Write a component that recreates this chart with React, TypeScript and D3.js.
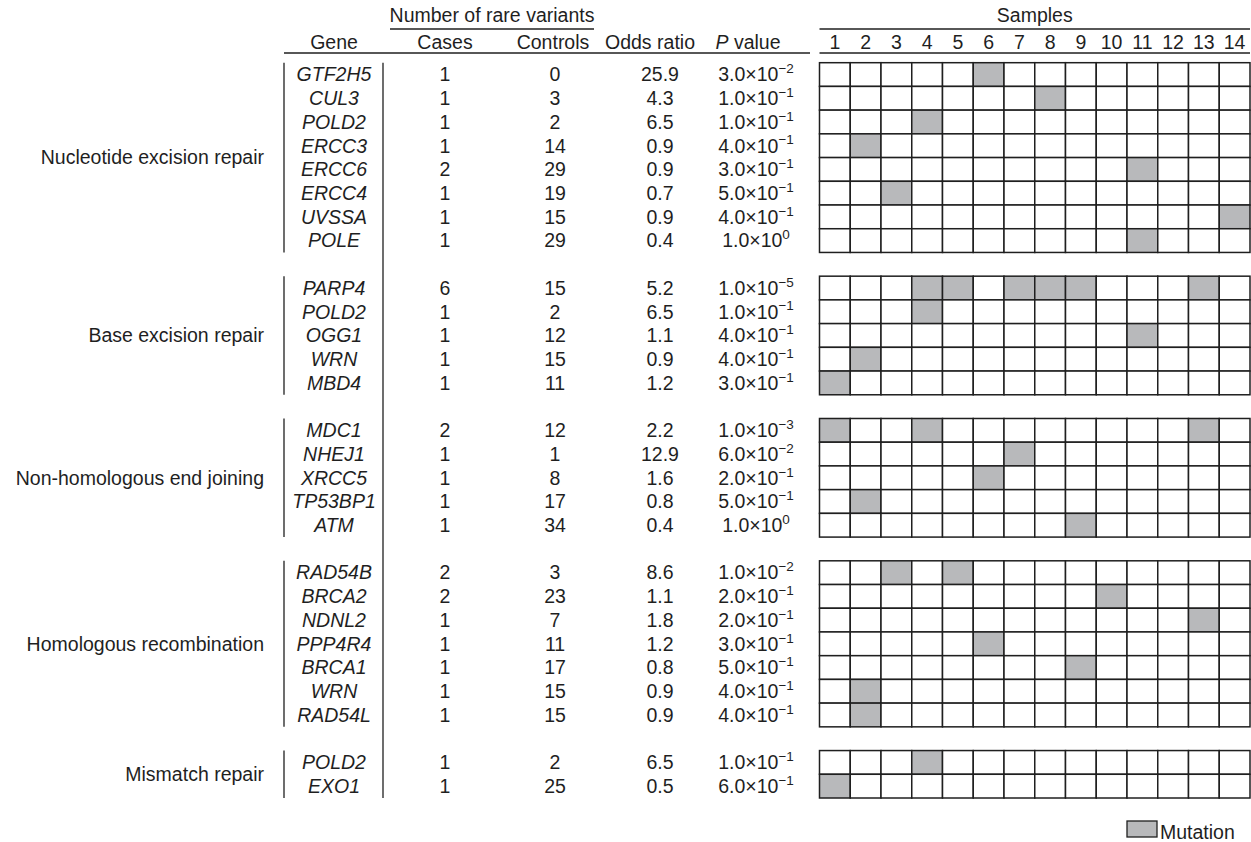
import React from 'react';
import * as d3 from 'd3';

const groupNames = [
  'Nucleotide excision repair',
  'Base excision repair',
  'Non-homologous end joining',
  'Homologous recombination',
  'Mismatch repair',
];
const geneGroup = [0, 0, 0, 0, 0, 0, 0, 0, 1, 1, 1, 1, 1, 2, 2, 2, 2, 2, 3, 3, 3, 3, 3, 3, 3, 4, 4];
const genes = ['GTF2H5', 'CUL3', 'POLD2', 'ERCC3', 'ERCC6', 'ERCC4', 'UVSSA', 'POLE',
  'PARP4', 'POLD2', 'OGG1', 'WRN', 'MBD4',
  'MDC1', 'NHEJ1', 'XRCC5', 'TP53BP1', 'ATM',
  'RAD54B', 'BRCA2', 'NDNL2', 'PPP4R4', 'BRCA1', 'WRN', 'RAD54L',
  'POLD2', 'EXO1'];
const cases = [1, 1, 1, 1, 2, 1, 1, 1, 6, 1, 1, 1, 1, 2, 1, 1, 1, 1, 2, 2, 1, 1, 1, 1, 1, 1, 1];
const controls = [0, 3, 2, 14, 29, 19, 15, 29, 15, 2, 12, 15, 11, 12, 1, 8, 17, 34, 3, 23, 7, 11, 17, 15, 15, 2, 25];
const oddsRatios = [25.9, 4.3, 6.5, 0.9, 0.9, 0.7, 0.9, 0.4, 5.2, 6.5, 1.1, 0.9, 1.2, 2.2, 12.9, 1.6, 0.8, 0.4, 8.6, 1.1, 1.8, 1.2, 0.8, 0.9, 0.9, 6.5, 0.5];
const pMantissa = [3, 1, 1, 4, 3, 5, 4, 1, 1, 1, 4, 4, 3, 1, 6, 2, 5, 1, 1, 2, 2, 3, 5, 4, 4, 1, 6];
const pExponent = [-2, -1, -1, -1, -1, -1, -1, 0, -5, -1, -1, -1, -1, -3, -2, -1, -1, 0, -2, -1, -1, -1, -1, -1, -1, -1, -1];
const mutations = [[6], [8], [4], [2], [11], [3], [14], [11],
  [4, 5, 7, 8, 9, 13], [4], [11], [2], [1],
  [1, 4, 13], [7], [6], [2], [9],
  [3, 5], [10], [13], [6], [9], [2], [2],
  [4], [1]];
const samples = d3.range(1, 15);
const columnHeaders = ['Gene', 'Cases', 'Controls', 'Odds ratio'];

const W = 1251;
const H = 842;
const FONT = '"Liberation Sans", Arial, Helvetica, sans-serif';
const FS = 19.5;
const INK = '#1f1f1f';
const MUT = '#b8b9bb';

export default function App() {
  const rowIndex = genes.map((_, i) => i + geneGroup[i]);
  const nRows = genes.length + groupNames.length - 1;
  const y = d3.scaleBand<number>().domain(d3.range(nRows)).range([62.7, 798]).padding(0);
  const x = d3.scaleBand<number>().domain(samples).range([819.5, 1250]).padding(0);
  const rh = y.bandwidth();
  const cw = x.bandwidth();

  const barL = 284;
  const barR = 383;
  const colGene = 334;
  const colCases = 445;
  const colControls = 555;
  const colOdds = 660;
  const colP = 756;
  const headerX = [colGene, colCases, 553, 650];

  const groupExtents = groupNames.map((_, g) => {
    const rows = rowIndex.filter((_, i) => geneGroup[i] === g);
    return [d3.min(rows)!, d3.max(rows)!];
  });

  const fmtExp = (e: number) => (e < 0 ? '\u2212' + Math.abs(e) : String(e));

  return (
    <svg width={W} height={H} style={{ position: 'absolute', left: 0, top: 0, background: '#fff' }}
      fontFamily={FONT} fontSize={FS} fill={INK}>
      <rect x={0} y={0} width={W} height={H} fill="#fff" />
      {/* headers */}
      <text x={492} y={22} textAnchor="middle">Number of rare variants</text>
      <line x1={390} x2={594} y1={29} y2={29} stroke={INK} strokeWidth={1.3} />
      {columnHeaders.map((h, i) => (
        <text key={h} x={headerX[i]} y={49} textAnchor="middle">{h}</text>
      ))}
      <text x={748} y={49} textAnchor="middle"><tspan fontStyle="italic">P</tspan> value</text>
      <line x1={barL} x2={810} y1={53} y2={53} stroke={INK} strokeWidth={1.3} />

      <text x={(x.range()[0] + x.range()[1]) / 2} y={22} textAnchor="middle">Samples</text>
      <line x1={819.5} x2={1250} y1={29} y2={29} stroke={INK} strokeWidth={1.3} />
      {samples.map((s) => (
        <text key={s} x={x(s)! + cw / 2} y={49} textAnchor="middle">{s}</text>
      ))}
      <line x1={819.5} x2={1250} y1={53} y2={53} stroke={INK} strokeWidth={1.3} />

      {/* group labels and left bars */}
      {groupNames.map((g, gi) => {
        const [r0, r1] = groupExtents[gi];
        const top = y(r0)!;
        const bot = y(r1)! + rh;
        return (
          <g key={g}>
            <text x={264} y={(top + bot) / 2} dy="0.35em" textAnchor="end">{g}</text>
            <line x1={barL} x2={barL} y1={top} y2={bot} stroke={INK} strokeWidth={1.3} />
          </g>
        );
      })}
      <line x1={barR} x2={barR} y1={y(0)!} y2={y(nRows - 1)! + rh} stroke={INK} strokeWidth={1.3} />

      {/* table rows */}
      {genes.map((gname, i) => {
        const cy = y(rowIndex[i])! + rh / 2;
        return (
          <g key={i}>
            <text x={colGene} y={cy} dy="0.35em" textAnchor="middle" fontStyle="italic">{gname}</text>
            <text x={colCases} y={cy} dy="0.35em" textAnchor="middle">{cases[i]}</text>
            <text x={colControls} y={cy} dy="0.35em" textAnchor="middle">{controls[i]}</text>
            <text x={colOdds} y={cy} dy="0.35em" textAnchor="middle">{oddsRatios[i].toFixed(1)}</text>
            <text x={colP} y={cy} dy="0.35em" textAnchor="middle">
              {pMantissa[i].toFixed(1)}{'\u00d710'}
              <tspan fontSize={13.5} dy="-0.6em">{fmtExp(pExponent[i])}</tspan>
            </text>
          </g>
        );
      })}

      {/* grid */}
      {genes.map((_, i) => {
        const ry = y(rowIndex[i])!;
        return (
          <g key={'r' + i}>
            {samples.map((s) => (
              <rect key={s} x={x(s)!} y={ry} width={cw} height={rh}
                fill={mutations[i].includes(s) ? MUT : '#fff'}
                stroke={INK} strokeWidth={1.5} />
            ))}
          </g>
        );
      })}

      {/* legend */}
      <rect x={1127} y={821} width={30} height={16} fill={MUT} stroke={INK} strokeWidth={1.3} />
      <text x={1160} y={839}>Mutation</text>
    </svg>
  );
}
